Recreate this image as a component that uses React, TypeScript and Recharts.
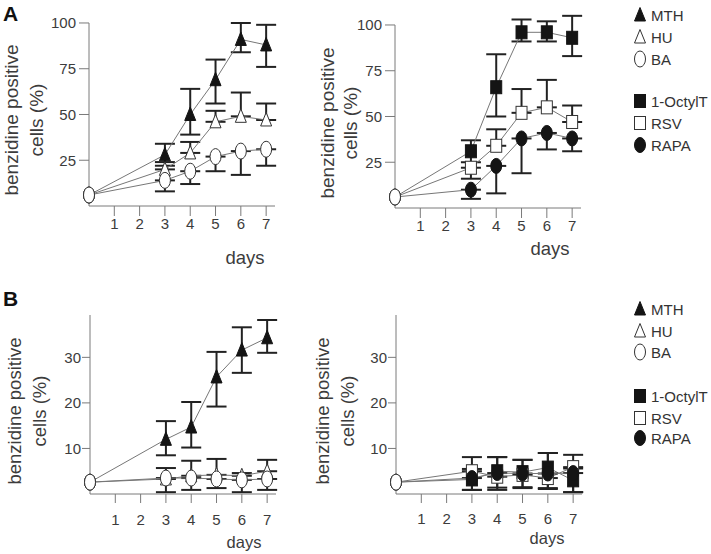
import React from 'react';
import { LineChart, Line, XAxis, YAxis, ErrorBar, ReferenceLine } from 'recharts';

type Err = [number, number] | null;
type Shape = 'triFill' | 'triOpen' | 'ellOpen' | 'sqFill' | 'sqOpen' | 'ellFill';

const days = [0, 3, 4, 5, 6, 7];
const dayTicks = [1, 2, 3, 4, 5, 6, 7];
const ticksA = [25, 50, 75, 100];
const ticksB = [10, 20, 30];
const yTitle = ['benzidine positive', 'cells (%)'];
const xTitle = 'days';
const groupOne = ['MTH', 'HU', 'BA'];
const groupTwo = ['1-OctylT', 'RSV', 'RAPA'];

// A, left
const mthA = [6, 28, 50, 69, 91, 88];
const mthAErr: Err[] = [null, [6, 6], [11, 14], [13, 11], [7, 9], [12, 11]];
const huA = [6, 20, 29, 46, 49, 47];
const huAErr: Err[] = [null, [0, 4], [0, 6], [0, 6], [0, 13], [0, 9]];
const baA = [6, 14, 19, 27, 30, 31];
const baAErr: Err[] = [null, [6, 0], [7, 0], [8, 0], [13, 0], [9, 0]];

// A, right
const octA = [6, 31, 66, 96, 96, 93];
const octAErr: Err[] = [null, [6, 6], [16, 18], [5, 7], [5, 6], [10, 12]];
const rsvA = [6, 22, 34, 52, 55, 47];
const rsvAErr: Err[] = [null, [6, 0], [0, 9], [0, 13], [0, 15], [0, 9]];
const rapaA = [6, 10, 23, 38, 41, 38];
const rapaAErr: Err[] = [null, [5, 0], [15, 0], [19, 0], [9, 0], [7, 0]];

// B, left
const mthB = [2.6, 12, 14.7, 25.7, 31.6, 34.3];
const mthBErr: Err[] = [null, [3.5, 4], [4.5, 5.5], [6.5, 5.5], [5, 5], [3.3, 3.9]];
const huB = [2.6, 3.3, 4.0, 4.2, 4.0, 5.0];
const huBErr: Err[] = [null, [0, 2.4], [0, 3.3], [0, 3.5], [0, 0.6], [0, 2.5]];
const baB = [2.6, 3.5, 3.5, 3.3, 3.1, 3.3];
const baBErr: Err[] = [null, [3.1, 0], [2.6, 0], [2.0, 0], [2.7, 0], [2.4, 0]];

// B, right
const octB = [2.6, 3.2, 5.0, 4.8, 5.8, 3.0];
const octBErr: Err[] = [null, [2.3, 2.3], [3.6, 3.1], [3.3, 2.7], [4.5, 3.2], [2.6, 2.6]];
const rsvB = [2.6, 5.0, 3.8, 4.2, 3.5, 5.9];
const rsvBErr: Err[] = [null, [0, 3.1], [0, 4.3], [0, 3.3], [0, 5.5], [0, 2.7]];
const rapaB = [2.6, 3.5, 4.6, 4.5, 4.5, 4.6];
const rapaBErr: Err[] = [null, [2.6, 0], [3.7, 0], [3.2, 0], [3.4, 0], [4.2, 0]];

const AXIS = '#7a7a7a';
const LINE = '#777';
const TXT = '#3c3c3c';
const INK = '#141414';

const mark = (shape: Shape, cx: number, cy: number) => {
  const tri = `${cx},${cy - 7.5} ${cx + 5.5},${cy + 6} ${cx - 5.5},${cy + 6}`;
  switch (shape) {
    case 'triFill':
      return <polygon points={tri} fill={INK} stroke={INK} />;
    case 'triOpen':
      return <polygon points={tri} fill="#fff" stroke="#333" />;
    case 'ellOpen':
      return <ellipse cx={cx} cy={cy} rx={5.5} ry={8} fill="#fff" stroke="#333" />;
    case 'sqFill':
      return <rect x={cx - 5.5} y={cy - 6.5} width={11} height={13} fill={INK} stroke={INK} />;
    case 'sqOpen':
      return <rect x={cx - 5.5} y={cy - 6.5} width={11} height={13} fill="#fff" stroke="#333" />;
    default:
      return <ellipse cx={cx} cy={cy} rx={5.5} ry={7.5} fill={INK} stroke={INK} />;
  }
};

type Series = { name: string; values: number[]; errs: Err[]; shape: Shape };
type PanelCfg = {
  left: number; top: number; plotH: number; yMax: number; yTop: number; yTicks: number[];
  xTick: number; xTickMargin: number; yTick: number; yTickMargin: number;
  series: Series[];
};

const panels: PanelCfg[] = [
  {
    left: 0, top: 0, plotH: 194, yMax: 106, yTop: 100, yTicks: ticksA,
    xTick: 10, xTickMargin: 2, yTick: 10, yTickMargin: 3,
    series: [
      { name: groupOne[0], values: mthA, errs: mthAErr, shape: 'triFill' },
      { name: groupOne[1], values: huA, errs: huAErr, shape: 'triOpen' },
      { name: groupOne[2], values: baA, errs: baAErr, shape: 'ellOpen' },
    ],
  },
  {
    left: 306, top: 2, plotH: 194, yMax: 106, yTop: 100, yTicks: ticksA,
    xTick: 10, xTickMargin: 2, yTick: 10, yTickMargin: 3,
    series: [
      { name: groupTwo[0], values: octA, errs: octAErr, shape: 'sqFill' },
      { name: groupTwo[1], values: rsvA, errs: rsvAErr, shape: 'sqOpen' },
      { name: groupTwo[2], values: rapaA, errs: rapaAErr, shape: 'ellFill' },
    ],
  },
  {
    left: 1, top: 303, plotH: 179, yMax: 39.3, yTop: 39.3, yTicks: ticksB,
    xTick: 9, xTickMargin: 11, yTick: 8, yTickMargin: 1,
    series: [
      { name: groupOne[0], values: mthB, errs: mthBErr, shape: 'triFill' },
      { name: groupOne[1], values: huB, errs: huBErr, shape: 'triOpen' },
      { name: groupOne[2], values: baB, errs: baBErr, shape: 'ellOpen' },
    ],
  },
  {
    left: 307, top: 303, plotH: 179, yMax: 39.3, yTop: 39.3, yTicks: ticksB,
    xTick: 9, xTickMargin: 10, yTick: 8, yTickMargin: 1,
    series: [
      { name: groupTwo[0], values: octB, errs: octBErr, shape: 'sqFill' },
      { name: groupTwo[1], values: rsvB, errs: rsvBErr, shape: 'sqOpen' },
      { name: groupTwo[2], values: rapaB, errs: rapaBErr, shape: 'ellFill' },
    ],
  },
];

// axis titles, page coordinates
const titles = [
  { x1: 11, x2: 36, y: 120, size: 19, dx: 245, dy: 257, dSize: 18.5 },
  { x1: 327, x2: 350, y: 123, size: 19, dx: 550, dy: 248, dSize: 18.5 },
  { x1: 14, x2: 39, y: 411, size: 18.5, dx: 244, dy: 542, dSize: 16.5 },
  { x1: 322, x2: 347, y: 411, size: 18.5, dx: 547, dy: 538, dSize: 16.5 },
];

const legends = [
  { ys: [15, 37, 59], shapes: ['triFill', 'triOpen', 'ellOpen'] as Shape[], names: groupOne },
  { ys: [101, 123, 145], shapes: ['sqFill', 'sqOpen', 'ellFill'] as Shape[], names: groupTwo },
  { ys: [309, 331, 352], shapes: ['triFill', 'triOpen', 'ellOpen'] as Shape[], names: groupOne },
  { ys: [396, 418, 438], shapes: ['sqFill', 'sqOpen', 'ellFill'] as Shape[], names: groupTwo },
];

const Panel = ({ cfg }: { cfg: PanelCfg }) => {
  const rows = days.map((d, i) => {
    const r: Record<string, unknown> = { day: d };
    cfg.series.forEach((s, j) => {
      r['v' + j] = s.values[i];
      r['e' + j] = s.errs[i];
    });
    return r;
  });
  return (
    <div style={{ position: 'absolute', left: cfg.left, top: cfg.top }}>
      <LineChart width={300} height={12 + cfg.plotH + 60} data={rows} margin={{ top: 12, right: 25, left: 0, bottom: 0 }}>
        <XAxis
          type="number"
          dataKey="day"
          domain={[0, 7.35]}
          ticks={dayTicks}
          interval={0}
          height={60}
          tickSize={cfg.xTick}
          tickMargin={cfg.xTickMargin}
          axisLine={{ stroke: AXIS }}
          tickLine={{ stroke: AXIS }}
          tick={{ fill: TXT, fontSize: 15 }}
        />
        <YAxis
          type="number"
          domain={[0, cfg.yMax]}
          ticks={cfg.yTicks}
          interval={0}
          width={89}
          axisLine={false}
          tickSize={cfg.yTick}
          tickMargin={cfg.yTickMargin}
          tickLine={{ stroke: AXIS }}
          tick={{ fill: TXT, fontSize: 15 }}
        />
        <ReferenceLine segment={[{ x: 0, y: 0 }, { x: 0, y: cfg.yTop }]} stroke={AXIS} />
        {cfg.series.map((s, j) => (
          <Line
            key={s.name}
            dataKey={'v' + j}
            type="linear"
            stroke={LINE}
            strokeWidth={1}
            isAnimationActive={false}
            activeDot={false}
            dot={(p: any) => {
              const { cx, cy, index } = p;
              if (cx == null || cy == null) return <g key={`n${j}-${index}`} />;
              return <g key={`d${j}-${index}`}>{mark(index === 0 ? 'ellOpen' : s.shape, cx, cy)}</g>;
            }}
          >
            <ErrorBar dataKey={'e' + j} direction="y" width={10} stroke="#222" strokeWidth={2} />
          </Line>
        ))}
      </LineChart>
    </div>
  );
};

export default function App() {
  return (
    <div style={{ position: 'absolute', left: 0, top: 0, width: 711, height: 554, background: '#fff', fontFamily: '"Liberation Sans", Arial, sans-serif' }}>
      {panels.map((p, i) => (
        <Panel key={i} cfg={p} />
      ))}
      <svg width={711} height={554} style={{ position: 'absolute', left: 0, top: 0, pointerEvents: 'none' }}>
        <text x={3} y={21} fontSize={21} fontWeight="bold" fill="#111">A</text>
        <text x={3} y={306} fontSize={21} fontWeight="bold" fill="#111">B</text>
        {titles.map((t, i) => (
          <g key={i} fill={TXT}>
            <text x={t.x1} y={t.y} transform={`rotate(-90 ${t.x1} ${t.y})`} textAnchor="middle" dominantBaseline="central" fontSize={t.size}>{yTitle[0]}</text>
            <text x={t.x2} y={t.y} transform={`rotate(-90 ${t.x2} ${t.y})`} textAnchor="middle" dominantBaseline="central" fontSize={t.size}>{yTitle[1]}</text>
            <text x={t.dx} y={t.dy} textAnchor="middle" dominantBaseline="central" fontSize={t.dSize}>{xTitle}</text>
          </g>
        ))}
        {legends.map((g, i) => (
          <g key={i}>
            {g.names.map((n, k) => (
              <g key={n}>
                {mark(g.shapes[k], 640, g.ys[k])}
                <text x={651} y={g.ys[k]} dominantBaseline="central" fontSize={15} fill="#333">{n}</text>
              </g>
            ))}
          </g>
        ))}
      </svg>
    </div>
  );
}
